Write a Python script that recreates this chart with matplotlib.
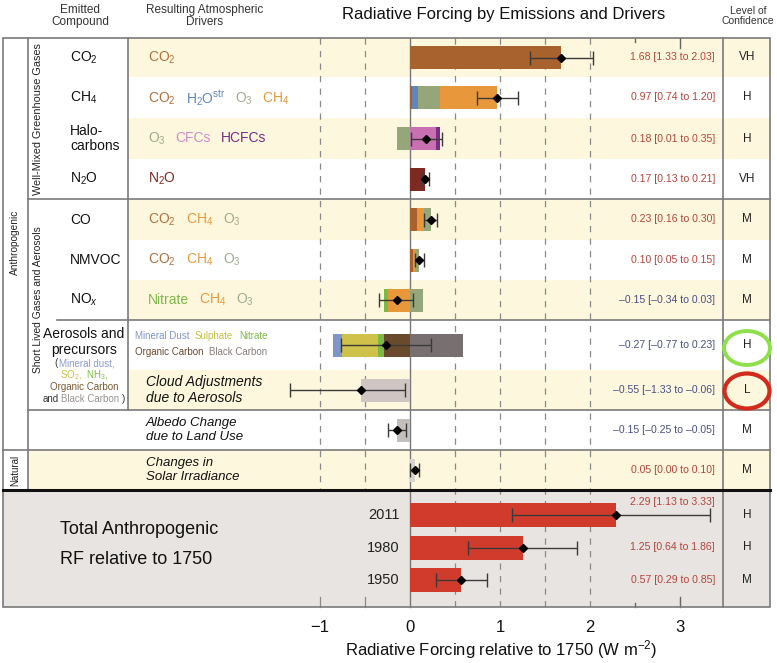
import numpy as np
import matplotlib.pyplot as plt
from matplotlib.patches import Rectangle, Ellipse
from matplotlib.offsetbox import TextArea, HPacker, AnnotationBbox

plt.rcParams['font.family'] = ['Liberation Sans', 'DejaVu Sans']
plt.rcParams['mathtext.fontset'] = 'custom'
plt.rcParams['mathtext.rm'] = 'Liberation Sans'
plt.rcParams['mathtext.it'] = 'Liberation Sans:italic'
plt.rcParams['mathtext.bf'] = 'Liberation Sans:bold'

# Data
compounds = ["CO$_2$", "CH$_4$", "Halo-\ncarbons", "N$_2$O", "CO", "NMVOC", "NO$_x$"]
drivers = [
    [("CO$_2$", "CO2")],
    [("CO$_2$", "CO2"), ("H$_2$O$^{\\mathrm{str}}$", "H2Ostr"), ("O$_3$", "O3"), ("CH$_4$", "CH4")],
    [("O$_3$", "O3"), ("CFCs", "CFCs"), ("HCFCs", "HCFCs")],
    [("N$_2$O", "N2O")],
    [("CO$_2$", "CO2"), ("CH$_4$", "CH4"), ("O$_3$", "O3")],
    [("CO$_2$", "CO2"), ("CH$_4$", "CH4"), ("O$_3$", "O3")],
    [("Nitrate", "Nitrate"), ("CH$_4$", "CH4"), ("O$_3$", "O3")],
]
# stacked pieces, stacked outward from zero in listed order
components = [
    [("CO2", 1.68)],
    [("CO2", 0.02), ("H2Ostr", 0.07), ("O3", 0.24), ("CH4", 0.64)],
    [("O3", -0.15), ("CFCs", 0.29), ("HCFCs", 0.04)],
    [("N2O", 0.17)],
    [("CO2", 0.08), ("CH4", 0.07), ("O3", 0.08)],
    [("CO2", 0.03), ("CH4", 0.02), ("O3", 0.05)],
    [("CH4", -0.25), ("Nitrate", -0.04), ("O3", 0.14)],
    [("OC", -0.29), ("Nitrate", -0.07), ("Sulphate", -0.40), ("Dust", -0.10), ("BC", 0.59)],
    [("Cloud", -0.55)],
    [("Albedo", -0.15)],
    [("Solar", 0.05)],
]
best = [1.68, 0.97, 0.18, 0.17, 0.23, 0.10, -0.15, -0.27, -0.55, -0.15, 0.05]
low = [1.33, 0.74, 0.01, 0.13, 0.16, 0.05, -0.34, -0.77, -1.33, -0.25, 0.00]
high = [2.03, 1.20, 0.35, 0.21, 0.30, 0.15, 0.03, 0.23, -0.06, -0.05, 0.10]
confidence = ["VH", "H", "H", "VH", "M", "M", "M", "H", "L", "M", "M"]

years = ["2011", "1980", "1950"]
total_best = [2.29, 1.25, 0.57]
total_low = [1.13, 0.64, 0.29]
total_high = [3.33, 1.86, 0.85]
total_conf = ["H", "H", "M"]

ticks = [-1, 0, 1, 2, 3]

colors = {
    "CO2": "#a8622e", "H2Ostr": "#5f86bd", "O3": "#95a77a", "CH4": "#e8983a",
    "CFCs": "#c870b2", "HCFCs": "#7d2a88", "N2O": "#7e2a22", "Nitrate": "#7dba45",
    "Dust": "#7e97c6", "Sulphate": "#cfc24a", "OC": "#6a4a2c", "BC": "#787070",
    "Cloud": "#cfc6c4", "Albedo": "#c3bfbc", "Solar": "#d8d3cf",
}
text_colors = dict(colors, O3="#a2aa8e", CFCs="#d08cc6", CO2="#b0703c")

YELLOW = "#fdf7dd"
GRAY = "#e7e4e1"
LINE = "#7a7a7a"
POS = "#b4453c"
NEG = "#4a4f85"


def col(p):
    # pixel column -> forcing value
    return (p - 410) / 90.0


fig = plt.figure(figsize=(7.77, 6.63), dpi=100)
ax = fig.add_axes([0, 0, 1, 1])
ax.set_xlim(col(0), col(777))
ax.set_ylim(663, 0)
ax.axis('off')

edges = [38, 77, 118, 159, 199, 240, 280, 320, 370, 410, 450, 490]
centers = [(a + b) / 2 for a, b in zip(edges[:-1], edges[1:])]
tot_centers = [515, 547.5, 580]
bar_h = 23

# backgrounds
for i in [0, 2, 4, 6, 8, 10]:
    x0 = 28 if i == 10 else 128
    ax.add_patch(Rectangle((col(x0), edges[i]), col(770) - col(x0), edges[i + 1] - edges[i],
                           color=YELLOW, lw=0, zorder=0))
ax.add_patch(Rectangle((col(3), 490), col(770) - col(3), 117, color=GRAY, lw=0, zorder=0))

# grid lines
for v in [-1, -0.5]:
    ax.plot([v, v], [38, 490], color="#8a8a8a", lw=0.9, ls=(0, (5, 5)), zorder=1)
    ax.plot([v, v], [597, 607], color="#8a8a8a", lw=0.9, zorder=1)
for v in [0.5, 1, 1.5, 2]:
    ax.plot([v, v], [38, 607], color="#8a8a8a", lw=0.9, ls=(0, (5, 5)), zorder=1)
ax.plot([0, 0], [38, 607], color="#777777", lw=1.0, zorder=1)
for v, ln in [(2.5, 4), (3, 10)]:
    ax.plot([v, v], [38, 38 + ln], color="#666666", lw=1.0, zorder=1)
    ax.plot([v, v], [607 - ln, 607], color="#666666", lw=1.0, zorder=1)


# table lines
def hline(y, x0, x1, **kw):
    ax.plot([col(x0), col(x1)], [y, y], **kw)


def vline(x, y0, y1, **kw):
    ax.plot([col(x), col(x)], [y0, y1], **kw)


lk = dict(color=LINE, lw=1.2, zorder=2)
ax.add_patch(Rectangle((col(3), 38), col(770) - col(3), 607 - 38, fill=False, ec=LINE, lw=1.2, zorder=2))
vline(28, 38, 490, **lk)
vline(128, 38, 410, **lk)
vline(723, 38, 607, **lk)
hline(199, 28, 770, **lk)
hline(320, 57, 770, **lk)
hline(410, 28, 770, **lk)
hline(450, 3, 770, **lk)
hline(490, 3, 770, color="#111111", lw=2.2, zorder=3)

# bars
for i, parts in enumerate(components):
    pos, neg = 0.0, 0.0
    for key, v in parts:
        if v >= 0:
            ax.barh(centers[i], v, left=pos, height=bar_h, color=colors[key], lw=0, zorder=3)
            pos += v
        else:
            ax.barh(centers[i], v, left=neg, height=bar_h, color=colors[key], lw=0, zorder=3)
            neg += v
    ax.errorbar(best[i], centers[i], xerr=[[best[i] - low[i]], [high[i] - best[i]]],
                fmt='D', color='black', ms=4.2, ecolor='#3a3a3a', elinewidth=1,
                capsize=5, capthick=1, zorder=4)

for j in range(len(years)):
    ax.barh(tot_centers[j], total_best[j], height=bar_h + 1, color="#d13b2b", lw=0, zorder=3)
    ax.errorbar(total_best[j], tot_centers[j],
                xerr=[[total_best[j] - total_low[j]], [total_high[j] - total_best[j]]],
                fmt='D', color='black', ms=3.8, ecolor='#3a3a3a', elinewidth=1,
                capsize=5, capthick=1, zorder=4)
    ax.text(col(400), tot_centers[j], years[j], ha='right', va='center', fontsize=10.5, color='#222222')


def fmt(v):
    return f"{v:.2f}".replace("-", "\u2013")


for i in range(len(best)):
    c = POS if best[i] >= 0 else NEG
    ax.text(col(715), centers[i], f"{fmt(best[i])} [{fmt(low[i])} to {fmt(high[i])}]",
            ha='right', va='center', fontsize=7.6, color=c)
    ax.text(col(747), centers[i], confidence[i], ha='center', va='center', fontsize=8.5, color='#222222')

tot_label_y = [502, 547.5, 580]
for j in range(len(years)):
    ax.text(col(715), tot_label_y[j], f"{fmt(total_best[j])} [{fmt(total_low[j])} to {fmt(total_high[j])}]",
            ha='right', va='center', fontsize=7.6, color=POS)
    ax.text(col(747), tot_centers[j], total_conf[j], ha='center', va='center', fontsize=8.5, color='#222222')


def pieces(x, y, parts, size, sep=5, align=(0, 0.5), style='normal'):
    boxes = [TextArea(s, textprops=dict(color=c, fontsize=size, fontstyle=style)) for s, c in parts]
    pack = HPacker(children=boxes, align='baseline', pad=0, sep=sep)
    ab = AnnotationBbox(pack, (x, y), xycoords='data', frameon=False, box_alignment=align, pad=0)
    ax.add_artist(ab)


# compound and driver columns
for i, name in enumerate(compounds):
    ax.text(col(70), centers[i], name, ha='left', va='center', fontsize=10, color='#111111', linespacing=1.15)
    pieces(col(148), centers[i], [(s, text_colors[k]) for s, k in drivers[i]], 10, sep=7)

pieces(col(135), 336, [("Mineral Dust", colors["Dust"]), ("Sulphate", "#c9bf3e"),
                       ("Nitrate", colors["Nitrate"])], 7, sep=4)
pieces(col(135), 352, [("Organic Carbon", colors["OC"]), ("Black Carbon", "#857e7b")], 7, sep=4)

ax.text(col(84), 342, "Aerosols and\nprecursors", ha='center', va='center', fontsize=10,
        color='#111111', linespacing=1.1)
pieces(col(84), 363, [("(", "#333333"), ("Mineral dust,", "#8a9cd0")], 7, sep=1, align=(0.5, 0.5))
pieces(col(84), 375, [("SO$_2$,", "#c9bf3e"), ("NH$_3$,", colors["Nitrate"])], 7, sep=3, align=(0.5, 0.5))
pieces(col(84), 387, [("Organic Carbon", "#7a5a38")], 7, sep=3, align=(0.5, 0.5))
pieces(col(84), 399, [("and", "#333333"), ("Black Carbon", "#999492"), (")", "#333333")], 7, sep=2,
       align=(0.5, 0.5))

for i, txt in [(8, "Cloud Adjustments\ndue to Aerosols"), (9, "Albedo Change\ndue to Land Use"),
               (10, "Changes in\nSolar Irradiance")]:
    ax.text(col(146), centers[i], txt, ha='left', va='center', fontsize=10 if i == 8 else 9.5,
            style='italic', color='#111111', linespacing=1.15)

# group labels
ax.text(col(38), 119, "Well-Mixed Greenhouse Gases", rotation=90, ha='center', va='center', fontsize=7.8, color='#222222')
ax.text(col(38), 300, "Short Lived Gases and Aerosols", rotation=90, ha='center', va='center', fontsize=7.4, color='#222222')
ax.text(col(15), 242, "Anthropogenic", rotation=90, ha='center', va='center', fontsize=7.3, color='#222222')
ax.text(col(15), 470, "Natural", rotation=90, ha='center', va='center', fontsize=7, color='#222222')

ax.text(col(60), 530, "Total Anthropogenic", ha='left', va='center', fontsize=13, color='#111111')
ax.text(col(60), 560, "RF relative to 1750", ha='left', va='center', fontsize=13, color='#111111')

# headers
ax.text(col(80), 16, "Emitted\nCompound", ha='center', va='center', fontsize=8.5, color='#333333', linespacing=1.1)
ax.text(col(205), 16, "Resulting Atmospheric\nDrivers", ha='center', va='center', fontsize=8.5, color='#333333', linespacing=1.1)
ax.text(col(504), 15, "Radiative Forcing by Emissions and Drivers", ha='center', va='center', fontsize=12, color='#111111')
ax.text(col(748), 16, "Level of\nConfidence", ha='center', va='center', fontsize=7.5, color='#333333', linespacing=1.1)

# axis ticks and label
for t in ticks:
    ax.text(t, 627, f"{t}".replace("-", "\u2212"), ha='center', va='center', fontsize=12, color='#111111')
ax.text(col(501), 650, "Radiative Forcing relative to 1750 (W m$^{-2}$)", ha='center', va='center',
        fontsize=12, color='#111111')

# hand-drawn highlight circles
ax.add_patch(Ellipse((col(747), 348), 46 / 90, 34, fill=False, ec="#8de04a", lw=2.8, zorder=5))
ax.add_patch(Ellipse((col(747), 391), 45 / 90, 35, fill=False, ec="#d32a1b", lw=3.0, zorder=5))

fig.savefig("out.png", dpi=100)
